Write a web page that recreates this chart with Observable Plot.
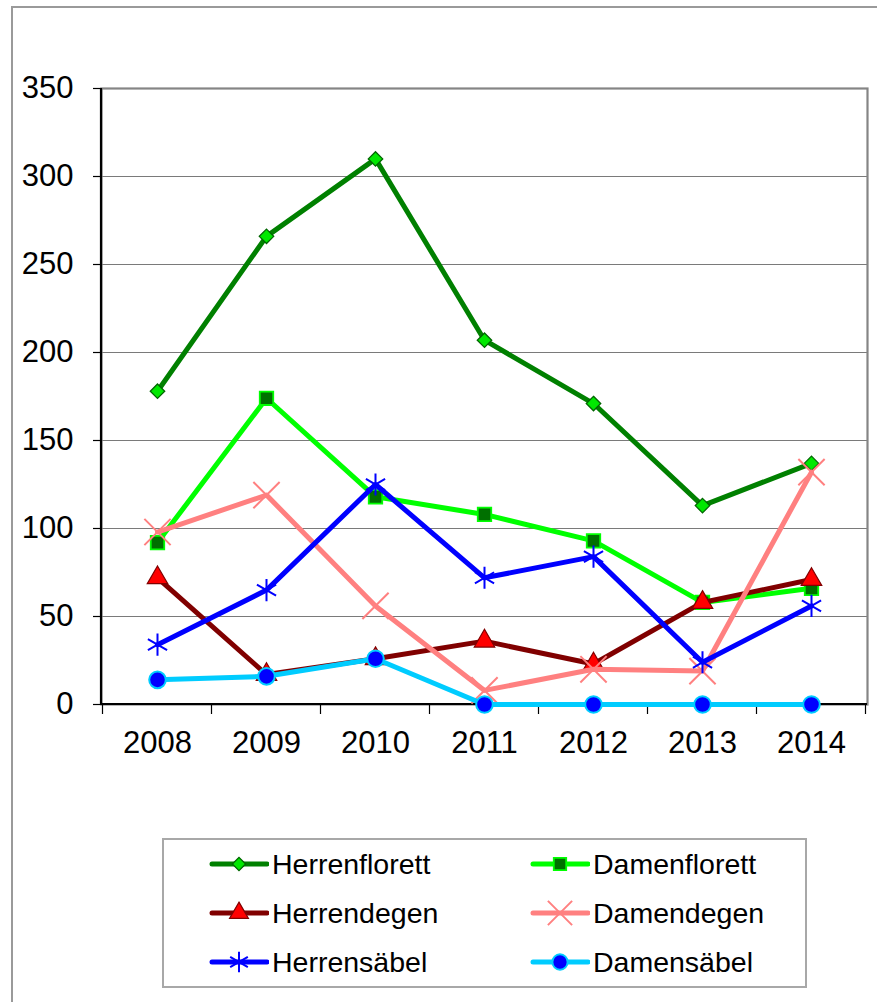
<!DOCTYPE html>
<html><head><meta charset="utf-8">
<script src="https://cdn.jsdelivr.net/npm/d3@7"></script>
<script src="https://cdn.jsdelivr.net/npm/@observablehq/plot@0.6"></script>
<style>
html,body{margin:0;padding:0;background:#fff;}
#wrap{position:relative;width:877px;height:1002px;overflow:hidden;font-family:"Liberation Sans",Arial,sans-serif;background:#fff;}
#border{position:absolute;left:11px;top:6px;width:900px;height:1100px;border:2px solid #9a9a9a;box-sizing:border-box;z-index:0}
#chart{position:absolute;left:0;top:0;z-index:1}
#legend{position:absolute;left:162px;top:838px;width:645px;height:150px;border:2px solid #a8a8a8;box-sizing:border-box;background:#fff;z-index:2}
.item{position:absolute;height:48px;display:flex;align-items:center;white-space:nowrap}
.item svg{flex:none}
.item span{font-size:28.5px;color:#000;margin-left:3px}
</style></head>
<body>
<div id="wrap"><div id="border"></div><div id="chart"></div><div id="legend"></div></div>
<script>
const years = ["2008","2009","2010","2011","2012","2013","2014"];
const seriesNames = ["Herrenflorett","Damenflorett","Herrendegen","Damendegen","Herrensäbel","Damensäbel"];
const herrenflorett = [178,266,310,207,171,113,137];
const damenflorett  = [92,174,118,108,93,58,66];
const herrendegen   = [72,17,26,36,23,58,71];
const damendegen    = [98,119,56,8,20,19,132];
const herrensaebel  = [34,65,125,72,84,24,56];
const damensaebel   = [14,16,26,0,0,0,0];
const yTicks = [0,50,100,150,200,250,300,350];

const values = [herrenflorett, damenflorett, herrendegen, damendegen, herrensaebel, damensaebel];
const styles = {
  "Herrenflorett": {line:"#008000", symbol:"diamond2", r:6.5, fill:"#00e800", stroke:"#006400", sw:1.3},
  "Damenflorett":  {line:"#00ff00", symbol:"square",   r:7.6, fill:"#007000", stroke:"#00ff00", sw:1.8},
  "Herrendegen":   {line:"#800000", symbol:"triangle", r:7.6, fill:"#ff0000", stroke:"#800000", sw:1.2},
  "Damendegen":    {line:"#ff8080", symbol:"times",    r:12,  fill:"none",    stroke:"#ff8080", sw:2},
  "Herrensäbel":   {line:"#0000ff", symbol:"asterisk", r:10.5, fill:"none",   stroke:"#0000ff", sw:2},
  "Damensäbel":    {line:"#00ccff", symbol:"circle",   r:8.3, fill:"#0000ff", stroke:"#00ccff", sw:2}
};
const rows = seriesNames.flatMap((name, i) => values[i].map((v, j) => ({series: name, year: years[j], value: v})));

const seriesMarks = seriesNames.flatMap(name => {
  const s = styles[name];
  const data = rows.filter(d => d.series === name);
  return [
    Plot.line(data, {x: "year", y: "value", stroke: s.line, strokeWidth: 5, strokeLinejoin: "round"}),
    Plot.dot(data, {x: "year", y: "value", symbol: s.symbol, r: s.r, fill: s.fill, stroke: s.stroke, strokeWidth: s.sw})
  ];
});

const chart = Plot.plot({
  width: 877,
  height: 780,
  marginLeft: 101,
  marginRight: 10,
  marginTop: 88,
  marginBottom: 76,
  style: {fontFamily: "'Liberation Sans', Arial, sans-serif", background: "none", color: "#000", overflow: "visible"},
  x: {type: "point", domain: years, padding: 0.5, label: null},
  y: {domain: [0, 350], label: null},
  marks: [
    Plot.ruleY(yTicks.filter(d => d > 0 && d < 350), {stroke: "#7a7a7a", strokeWidth: 1.2}),
    Plot.frame({stroke: "#858585", strokeWidth: 2.2}),
    (index, scales, vals, dim) => {
      const g = d3.create("svg:g").attr("stroke", "#000");
      const x = scales.x;
      const pos = years.map(x);
      const step = pos[1] - pos[0];
      const bounds = [pos[0] - step / 2, ...pos.map(p => p + step / 2)];
      const bottom = dim.height - dim.marginBottom;
      g.append("line").attr("x1", dim.marginLeft).attr("x2", dim.marginLeft)
        .attr("y1", dim.marginTop).attr("y2", bottom + 1).attr("stroke-width", 2.2);
      g.append("line").attr("x1", dim.marginLeft).attr("x2", dim.width - dim.marginRight)
        .attr("y1", bottom).attr("y2", bottom).attr("stroke-width", 2.2);
      bounds.forEach(b => g.append("line").attr("x1", b).attr("x2", b)
        .attr("y1", bottom).attr("y2", bottom + 10).attr("stroke-width", 1.2));
      return g.node();
    },
    Plot.axisY({ticks: yTicks, tickSize: 8, tickPadding: 20, fontSize: 31, stroke: "#000", strokeWidth: 1.2, tickFormat: d => String(d)}),
    Plot.axisX({tickSize: 0, tickPadding: 26, fontSize: 31}),
    ...seriesMarks
  ]
});
document.getElementById("chart").appendChild(chart);

// Legend
const legend = d3.select("#legend");
const symMap = {diamond2: d3.symbolDiamond2, square: d3.symbolSquare, triangle: d3.symbolTriangle,
                times: d3.symbolTimes, asterisk: d3.symbolAsterisk, circle: d3.symbolCircle};
seriesNames.forEach((name, i) => {
  const s = styles[name];
  const col = i % 2, row = Math.floor(i / 2);
  const item = legend.append("div").attr("class", "item")
    .style("left", (col ? 366 : 45) + "px")
    .style("top", (row * 49) + "px");
  const svg = item.append("svg").attr("width", 60).attr("height", 48);
  svg.append("line").attr("x1", 3).attr("x2", 58).attr("y1", 24).attr("y2", 24)
    .attr("stroke", s.line).attr("stroke-width", 5).attr("stroke-linecap", "round");
  svg.append("path").attr("transform", "translate(30,24)")
    .attr("d", d3.symbol(symMap[s.symbol], Math.PI * s.r * s.r * 0.85)())
    .attr("fill", s.fill).attr("stroke", s.stroke).attr("stroke-width", s.sw);
  item.append("span").text(name);
});
</script>
</body></html>
